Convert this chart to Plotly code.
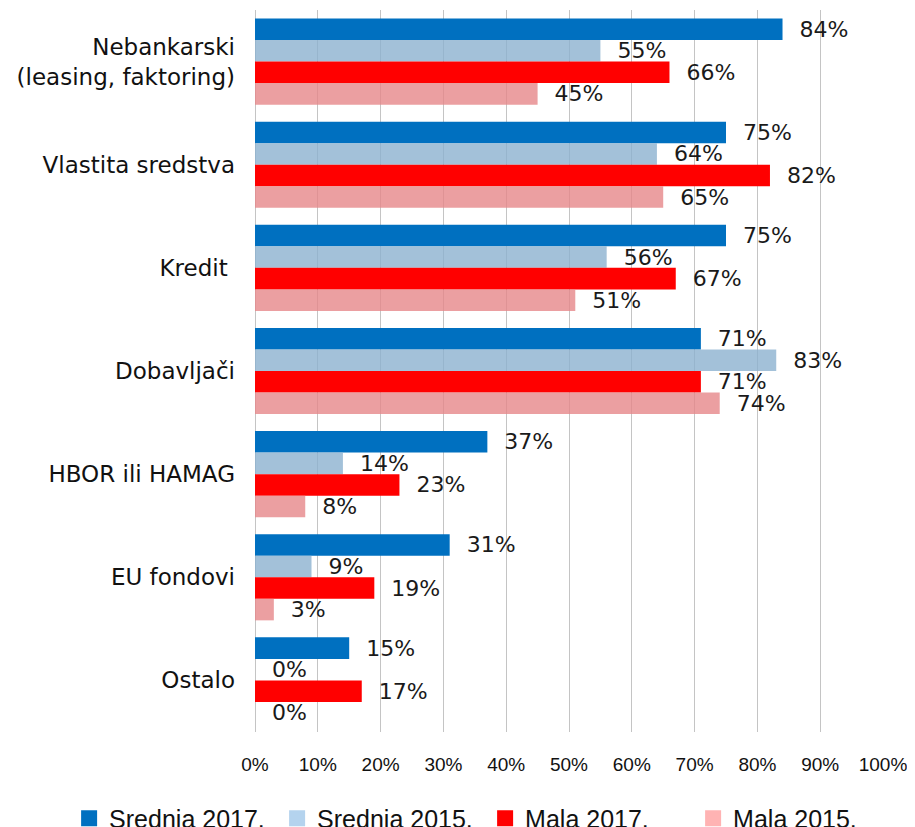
import plotly.graph_objects as go

categories = ["Nebankarski<br>(leasing, faktoring)", "Vlastita sredstva", "Kredit ",
              "Dobavljači", "HBOR ili HAMAG", "EU fondovi", "Ostalo"]
srednja_2017 = [84, 75, 75, 71, 37, 31, 15]
srednja_2015 = [55, 64, 56, 83, 14, 9, 0]
mala_2017 = [66, 82, 67, 71, 23, 19, 17]
mala_2015 = [45, 65, 51, 74, 8, 3, 0]
x_ticks = list(range(0, 101, 10))
x_tick_labels = [f"{v}%" for v in x_ticks]

series = [
    ("Srednja 2017.", srednja_2017, "#0070C0", "#0070C0"),
    ("Srednja 2015.", srednja_2015, "rgba(140,178,207,0.8)", "#B4D3EE"),
    ("Mala 2017.", mala_2017, "#FF0000", "#FF0000"),
    ("Mala 2015.", mala_2015, "rgba(230,135,138,0.8)", "#FFB3B3"),
]

fig = go.Figure()
for name, vals, col, _ in series:
    fig.add_trace(go.Bar(
        y=categories, x=vals, orientation="h", name=name,
        marker=dict(color=col, line=dict(width=0)),
        text=[f"\u00a0\u00a0{v}%" for v in vals], texttemplate="%{text}",
        textposition="outside",
        textfont=dict(family="DejaVu Sans", size=22, color="#1a1a1a"),
        constraintext="none", cliponaxis=False, showlegend=False,
    ))
for name, vals, _, lcol in series:
    fig.add_trace(go.Scatter(
        x=[None], y=[None], mode="markers", name=name,
        marker=dict(symbol="square", size=16, color=lcol),
    ))

fig.update_layout(
    width=915, height=827,
    margin=dict(l=247, r=40, t=2, b=103, autoexpand=False),
    paper_bgcolor="white", plot_bgcolor="white",
    barmode="group", bargap=0.165, bargroupgap=0,
    legend=dict(orientation="h", xref="paper", yref="paper",
                x=-0.296, y=-0.088, xanchor="left", yanchor="top",
                font=dict(family="Liberation Sans", size=25, color="#111"),
                entrywidth=163, entrywidthmode="pixels",
                itemwidth=30, tracegroupgap=0),
    xaxis=dict(range=[0, 100], tickvals=x_ticks, ticktext=x_tick_labels,
               automargin=False,
               showgrid=True, gridcolor="#C4C4C4", gridwidth=1,
               zeroline=True, zerolinecolor="#C4C4C4", zerolinewidth=1,
               showline=False, ticks="", ticklabelstandoff=19,
               tickfont=dict(family="Liberation Sans", size=19, color="#111")),
    yaxis=dict(categoryorder="array", categoryarray=categories, autorange="reversed",
               automargin=False,
               showgrid=False, zeroline=False, showline=False, ticks="",
               ticklabelstandoff=19,
               tickfont=dict(family="DejaVu Sans", size=23, color="#111")),
)

fig.write_html("out.html")
